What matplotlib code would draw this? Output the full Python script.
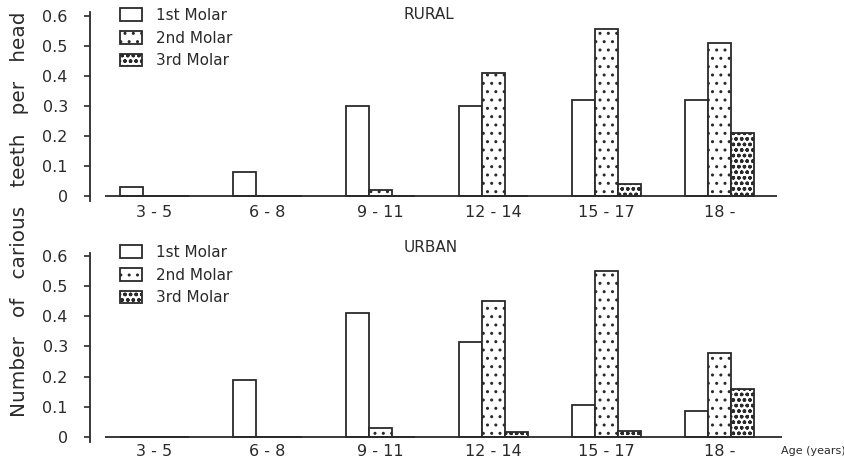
import matplotlib
matplotlib.use("Agg")
import matplotlib.pyplot as plt
import numpy as np

age_groups = ["3 - 5", "6 - 8", "9 - 11", "12 - 14", "15 - 17", "18 -"]
series = ["1st Molar", "2nd Molar", "3rd Molar"]

rural_1st = [0.03, 0.08, 0.30, 0.30, 0.32, 0.32]
rural_2nd = [0.00, 0.00, 0.02, 0.41, 0.555, 0.51]
rural_3rd = [0.00, 0.00, 0.00, 0.00, 0.04, 0.21]

urban_1st = [0.00, 0.19, 0.41, 0.315, 0.105, 0.085]
urban_2nd = [0.00, 0.00, 0.03, 0.45, 0.55, 0.28]
urban_3rd = [0.00, 0.00, 0.00, 0.015, 0.02, 0.16]

yticks = [0, 0.1, 0.2, 0.3, 0.4, 0.5, 0.6]
ytick_labels = ["0", "0.1", "0.2", "0.3", "0.4", "0.5", "0.6"]

INK = "#2a2a2a"
plt.rcParams["hatch.linewidth"] = 1.0
plt.rcParams["hatch.color"] = INK
plt.rcParams["font.family"] = ["DejaVu Sans"]

W, H = 845, 466
fig = plt.figure(figsize=(W / 100, H / 100), dpi=100)

def px_axes(left, top, right, bottom):
    return fig.add_axes([left / W, 1 - bottom / H, (right - left) / W, (bottom - top) / H])

ax_top = px_axes(90, 12.5, 790, 200.5)
ax_bot = px_axes(90, 253, 790, 441.5)

bw = 23 / 113.0
x = np.arange(len(age_groups))
hatches = [None, "..", "ooo"]

def draw(ax, vals, title, tx, ty, leg_y, base_right, label_pad):
    handles = []
    for k, (v, h) in enumerate(zip(vals, hatches)):
        b = ax.bar(x + (k - 1) * bw, v, width=bw, facecolor="white",
                   edgecolor=INK, linewidth=1.3, hatch=h, label=series[k], zorder=2)
        handles.append(b)
    ax.set_xlim(-0.571, 5.624)
    ax.set_ylim(-0.015, 0.61)
    for s in ["top", "right", "bottom"]:
        ax.spines[s].set_visible(False)
    ax.spines["left"].set_color(INK)
    ax.spines["left"].set_linewidth(1.3)
    ax.hlines(0, -0.44, base_right, color=INK, linewidth=1.3, zorder=3)
    ax.set_yticks(yticks)
    ax.set_yticklabels(ytick_labels, fontsize=11.5, color=INK)
    ax.tick_params(axis="y", direction="out", length=4, width=1.2, color=INK, pad=12)
    ax.set_yticks([0], minor=True)
    ax.tick_params(axis="y", which="minor", direction="in", length=5, width=1.2, color=INK)
    ax.set_xticks(x)
    ax.set_xticklabels(age_groups, fontsize=11.5, color=INK)
    ax.tick_params(axis="x", length=0, pad=label_pad)
    ax.text(tx, ty, title, transform=ax.transAxes, ha="center", va="center",
            fontsize=11, color=INK)
    ax.legend(handles=handles, loc="upper left", bbox_to_anchor=(0.043, leg_y),
              frameon=False, fontsize=11, borderpad=0, borderaxespad=0,
              handlelength=1.45, handleheight=0.9, labelspacing=0.5,
              handletextpad=0.9, labelcolor=INK)

draw(ax_top, [rural_1st, rural_2nd, rural_3rd], "RURAL", 0.484, 0.987, 1.024, 5.51, 3)
draw(ax_bot, [urban_1st, urban_2nd, urban_3rd], "URBAN", 0.486, 1.027, 1.042, 5.55, 2)

fig.text(20 / W, 1 - 214 / H, "Number   of   carious   teeth   per   head",
         rotation=90, ha="center", va="center", fontsize=14.4, color=INK)
fig.text(781 / W, 1 - 451 / H, "Age (years)", ha="left", va="center",
         fontsize=8, color=INK)

fig.savefig("out.png", dpi=100)
